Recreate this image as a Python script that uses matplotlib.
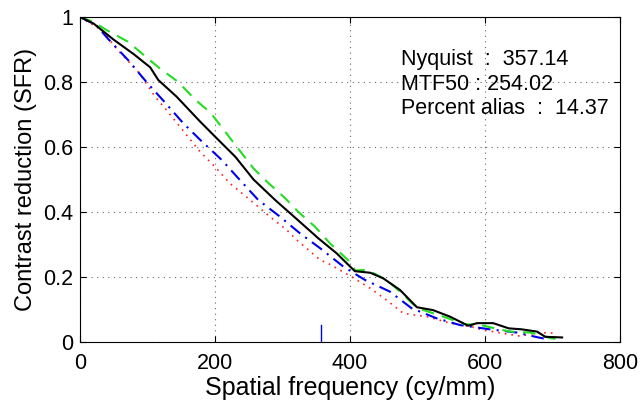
import matplotlib
matplotlib.use("Agg")
import matplotlib.pyplot as plt

plt.rcParams['font.family'] = ['Liberation Sans', 'DejaVu Sans']

# Curva principale (nera, continua)
x_nero = [0, 20, 50, 80, 104, 116, 143, 178, 200, 230, 257, 289, 320, 353, 380, 407,
          430, 449, 474, 499, 523, 548, 575, 588, 612, 635, 654, 677, 689, 714]
y_nero = [1.0, 0.98, 0.93, 0.885, 0.845, 0.806, 0.755, 0.678, 0.632, 0.57, 0.50, 0.437,
          0.38, 0.319, 0.273, 0.218, 0.213, 0.196, 0.16, 0.107, 0.098, 0.078, 0.05,
          0.058, 0.058, 0.042, 0.039, 0.032, 0.016, 0.014]

# Curva verde tratteggiata
x_verde = [0, 20, 39, 71, 118, 145, 170, 194, 215, 232, 257, 277, 304, 323, 348, 370,
           397, 408, 425, 454, 474, 499, 538, 570, 593, 637, 667, 699, 705]
y_verde = [1.0, 0.985, 0.96, 0.924, 0.842, 0.801, 0.747, 0.704, 0.647, 0.601, 0.534,
           0.493, 0.442, 0.401, 0.355, 0.304, 0.252, 0.22, 0.222, 0.191, 0.155, 0.105,
           0.078, 0.055, 0.052, 0.032, 0.029, 0.011, 0.01]

# Curva blu tratto-punto
x_blu = [0, 24, 41, 71, 98, 125, 153, 178, 210, 237, 264, 296, 326, 356, 390, 422,
         459, 491, 528, 563, 607, 647, 681, 695]
y_blu = [1.0, 0.975, 0.934, 0.868, 0.801, 0.739, 0.673, 0.622, 0.56, 0.498, 0.437,
         0.386, 0.334, 0.288, 0.232, 0.191, 0.155, 0.104, 0.073, 0.052, 0.039, 0.029,
         0.013, 0.008]

# Curva rossa punteggiata
x_rosso = [0, 32, 56, 88, 111, 128, 178, 200, 222, 252, 281, 306, 321, 356, 370, 402,
           430, 454, 479, 514, 548, 580, 593, 622, 652, 677, 706]
y_rosso = [1.0, 0.96, 0.898, 0.827, 0.755, 0.714, 0.585, 0.539, 0.488, 0.437, 0.386,
           0.345, 0.314, 0.252, 0.239, 0.201, 0.165, 0.129, 0.088, 0.078, 0.058, 0.047,
           0.039, 0.028, 0.018, 0.029, 0.027]

nyquist = 357.14
mtf50 = 254.02
alias = 14.37

fig = plt.figure(figsize=(6.4, 4.0), dpi=100)
ax = fig.add_axes([0.125, 0.145, 0.844, 0.8125])

ax.plot(x_rosso, y_rosso, color='#ff2020', linestyle=(0, (1, 3)), linewidth=1.2)
ax.plot(x_blu, y_blu, color='#0000ee', linestyle=(0, (6, 3, 1, 3)), linewidth=1.5)
ax.plot(x_verde, y_verde, color='#22dd22', linestyle=(0, (6, 4)), linewidth=1.5)
ax.plot(x_nero, y_nero, color='black', linewidth=1.5)
# segno della frequenza di Nyquist
ax.plot([nyquist, nyquist], [0, 0.052], color='#0000ee', linewidth=1)

ax.set_xlim(0, 800)
ax.set_ylim(0, 1)
ax.set_xticks([0, 200, 400, 600, 800])
ax.set_yticks([0, 0.2, 0.4, 0.6, 0.8, 1])
ax.set_yticklabels(['0', '0.2', '0.4', '0.6', '0.8', '1'])
ax.tick_params(direction='in', top=True, right=True, labelsize=15.5, length=4)
ax.tick_params(axis='x', pad=8)
ax.tick_params(axis='y', pad=5)
ax.grid(True, linestyle=(0, (1, 4)), color='#666666', linewidth=0.8)

ax.set_xlabel('Spatial frequency (cy/mm)', fontsize=18, labelpad=1)
ax.set_ylabel('Contrast reduction (SFR)', fontsize=17, labelpad=4)

ax.text(476, 0.868, 'Nyquist  :  %.2f' % nyquist, fontsize=15.5, va='center')
ax.text(476, 0.791, 'MTF50 : %.2f' % mtf50, fontsize=15.5, va='center')
ax.text(476, 0.72, 'Percent alias  :  %.2f' % alias, fontsize=15.5, va='center')

plt.savefig('out.png', dpi=100)
